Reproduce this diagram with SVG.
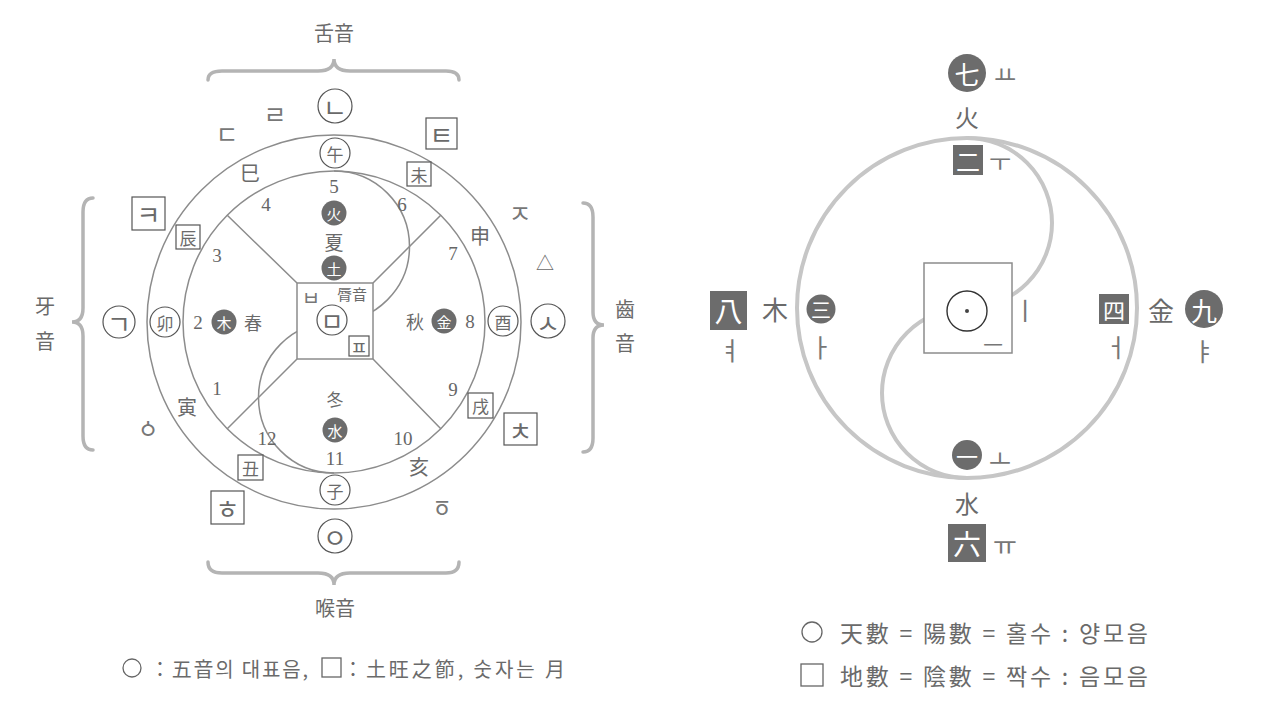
<svg xmlns="http://www.w3.org/2000/svg" width="1280" height="720" viewBox="0 0 1280 720">
<style>
.t{font-family:"Noto Sans CJK KR","Noto Sans CJK SC",sans-serif;fill:#6a6a6a;text-anchor:middle;dominant-baseline:central}
.j{fill:#777}
.n{font-family:"Liberation Serif",serif;fill:#666;text-anchor:middle;dominant-baseline:central;font-size:19px}
.w{fill:#fff}
.ln{fill:none;stroke:#8c8c8c;stroke-width:1.5}
.oc{fill:#fff;stroke:#555;stroke-width:1.2}
.bx{fill:#fff;stroke:#555;stroke-width:1.2}
.dk{fill:#6c6c6c;stroke:none}
.br{fill:none;stroke:#b4b4b4;stroke-width:3.5;stroke-linecap:round}
.yy{fill:none;stroke:#c6c6c6;stroke-width:4}
</style>
<rect width="1280" height="720" fill="#fff"/>

<g id="connectors">
  <circle class="ln" cx="334" cy="322" r="187"/>
  <circle class="ln" cx="334" cy="322" r="151"/>
  <path class="ln" d="M334 171 A75.5 75.5 0 0 1 334 322 M334 473 A75.5 75.5 0 0 1 334 322"/>
  <path class="ln" d="M297 283 L227 215 M373 283 L441 215 M297 359 L227 429 M373 359 L441 429"/>
  <path class="br" d="M208 80 Q208 71 222 71 L318 71 Q334 71 334 59 Q334 71 350 71 L446 71 Q459 71 459 80"/>
  <path class="br" d="M208 562 Q208 573 222 573 L318 573 Q334 573 334 585 Q334 573 350 573 L446 573 Q459 573 459 562"/>
  <path class="br" d="M583 203 Q593 203 593 217 L593 312 Q593 325 604 325 Q593 325 593 338 L593 438 Q593 452 583 452"/>
  <path class="br" d="M93 198 Q83 198 83 212 L83 308 Q83 322 72 322 Q83 322 83 336 L83 436 Q83 450 93 450"/>
  <circle class="yy" cx="967" cy="308" r="170"/>
  <path class="yy" d="M967 138 A85 85 0 0 1 967 308 M967 478 A85 85 0 0 1 967 308"/>
</g>

<g id="center-left">
  <rect x="297" y="283" width="76" height="76" fill="#fff" stroke="#8c8c8c" stroke-width="1.5"/>
  <text class="t j" x="311" y="297" font-size="20">ㅂ</text>
  <text class="t" x="352" y="293" font-size="15">脣音</text>
  <circle class="oc" cx="332" cy="320" r="15"/>
  <text class="t" x="332" y="320" font-size="25">ㅁ</text>
  <rect class="bx" x="349" y="336" width="20" height="20"/>
  <text class="t" x="359" y="346" font-size="19">ㅍ</text>
</g>

<g id="labels-top">
  <text class="t" x="334" y="32" font-size="20">舌音</text>
  <circle class="oc" cx="335" cy="106" r="17"/><text class="t" x="335" y="106" font-size="26">ㄴ</text>
  <text class="t j" x="275" y="113" font-size="25">ㄹ</text>
  <text class="t j" x="227" y="133" font-size="25">ㄷ</text>
  <circle class="oc" cx="335" cy="153" r="15"/><text class="t" x="335" y="153" font-size="17">午</text>
  <text class="t" x="250" y="172" font-size="20">巳</text>
  <text class="n" x="334" y="186">5</text>
  <text class="n" x="266" y="204">4</text>
  <text class="n" x="402" y="204">6</text>
  <rect class="bx" x="426" y="118" width="31" height="31"/><text class="t" x="441.5" y="133.5" font-size="26">ㅌ</text>
  <rect class="bx" x="407" y="162" width="24" height="24"/><text class="t" x="419" y="174" font-size="17">未</text>
  <circle class="dk" cx="334" cy="213" r="12.5"/><text class="t w" x="334" y="213" font-size="15">火</text>
  <text class="t" x="334" y="241" font-size="19">夏</text>
  <circle class="dk" cx="334" cy="268" r="12.5"/><text class="t w" x="334" y="268" font-size="15">土</text>
</g>

<g id="labels-left">
  <text class="t" x="45" y="305" font-size="20">牙</text>
  <text class="t" x="45" y="340" font-size="20">音</text>
  <rect class="bx" x="132" y="197" width="33" height="33"/><text class="t" x="148.5" y="213.5" font-size="26">ㅋ</text>
  <rect class="bx" x="176" y="225" width="24" height="24"/><text class="t" x="188" y="237" font-size="17">辰</text>
  <text class="n" x="217" y="255">3</text>
  <circle class="oc" cx="119" cy="322" r="16"/><text class="t" x="119" y="322" font-size="26">ㄱ</text>
  <circle class="oc" cx="165" cy="322" r="15"/><text class="t" x="165" y="322" font-size="17">卯</text>
  <text class="n" x="198" y="322">2</text>
  <circle class="dk" cx="224" cy="322" r="12.5"/><text class="t w" x="224" y="322" font-size="15">木</text>
  <text class="t" x="253" y="322" font-size="18">春</text>
  <text class="n" x="217" y="388">1</text>
  <text class="t" x="187" y="406" font-size="20">寅</text>
  <text class="t j" x="148" y="427" font-size="25">ㆁ</text>
</g>

<g id="labels-right">
  <text class="t j" x="520" y="212" font-size="25">ㅈ</text>
  <text class="t" x="480" y="235" font-size="20">申</text>
  <text class="n" x="453" y="253">7</text>
  <text class="t" x="545" y="262" font-size="18">△</text>
  <text class="t" x="415" y="321" font-size="18">秋</text>
  <circle class="dk" cx="444" cy="321" r="12.5"/><text class="t w" x="444" y="321" font-size="15">金</text>
  <text class="n" x="470" y="321">8</text>
  <circle class="oc" cx="503" cy="321" r="15"/><text class="t" x="503" y="321" font-size="17">酉</text>
  <circle class="oc" cx="548" cy="321" r="17"/><text class="t" x="548" y="321" font-size="26">ㅅ</text>
  <text class="t" x="625" y="308" font-size="20">齒</text>
  <text class="t" x="625" y="342" font-size="20">音</text>
  <text class="n" x="453" y="389">9</text>
  <rect class="bx" x="468" y="393" width="25" height="25"/><text class="t" x="480.5" y="405.5" font-size="17">戌</text>
  <rect class="bx" x="504" y="413" width="33" height="32"/><text class="t" x="520.5" y="429" font-size="26">ㅊ</text>
</g>

<g id="labels-bottom">
  <text class="t" x="335" y="398" font-size="17">冬</text>
  <circle class="dk" cx="335" cy="430" r="12.5"/><text class="t w" x="335" y="430" font-size="15">水</text>
  <text class="n" x="267" y="438">12</text>
  <text class="n" x="335" y="458">11</text>
  <text class="n" x="403" y="438">10</text>
  <text class="t" x="419" y="466" font-size="20">亥</text>
  <text class="t j" x="442" y="506" font-size="25">ㆆ</text>
  <rect class="bx" x="238" y="455" width="25" height="25"/><text class="t" x="250.5" y="467.5" font-size="17">丑</text>
  <rect class="bx" x="211" y="491" width="33" height="33"/><text class="t" x="227.5" y="507.5" font-size="26">ㅎ</text>
  <circle class="oc" cx="335" cy="490" r="15"/><text class="t" x="335" y="490" font-size="17">子</text>
  <circle class="oc" cx="335" cy="536" r="17"/><text class="t" x="335" y="536" font-size="26">ㅇ</text>
  <text class="t" x="335" y="607" font-size="20">喉音</text>
</g>

<g id="legend-left">
  <circle cx="132" cy="668" r="9" fill="none" stroke="#666" stroke-width="1.3"/>
  <text class="t" x="150" y="668" font-size="20" textLength="158" lengthAdjust="spacing" style="text-anchor:start">：五音의 대표음,</text>
  <rect x="322" y="658" width="19" height="19" fill="none" stroke="#666" stroke-width="1.3"/>
  <text class="t" x="343" y="668" font-size="20" textLength="222" lengthAdjust="spacing" style="text-anchor:start">：土旺之節,  숫자는 月</text>
</g>

<g id="center-right">
  <rect x="924" y="263" width="88" height="90" fill="#fff" stroke="#8c8c8c" stroke-width="1.5"/>
  <circle cx="967" cy="311" r="20" fill="none" stroke="#333" stroke-width="1.4"/>
  <circle cx="967" cy="311" r="2" fill="#444"/>
  <text class="t j" x="993" y="343" font-size="22">ㅡ</text>
  <text class="t j" x="1025" y="309" font-size="25">ㅣ</text>
</g>

<g id="fire">
  <circle class="dk" cx="967" cy="73" r="19"/><text class="t w" x="967" y="73" font-size="25">七</text>
  <text class="t j" x="1005" y="73" font-size="24">ㅛ</text>
  <text class="t" x="967" y="116" font-size="24">火</text>
  <rect class="dk" x="953" y="145" width="30" height="30"/><text class="t w" x="968" y="160" font-size="24">二</text>
  <text class="t j" x="1000" y="160" font-size="24">ㅜ</text>
</g>

<g id="wood">
  <rect class="dk" x="710" y="291" width="37" height="39"/><text class="t w" x="728.5" y="310" font-size="28">八</text>
  <text class="t" x="775" y="308" font-size="26">木</text>
  <circle class="dk" cx="821" cy="309" r="14.5"/><text class="t w" x="821" y="309" font-size="20">三</text>
  <text class="t j" x="730" y="349" font-size="25">ㅕ</text>
  <text class="t j" x="821" y="346" font-size="25">ㅏ</text>
</g>

<g id="metal">
  <rect class="dk" x="1099" y="294" width="30" height="30"/><text class="t w" x="1114" y="309" font-size="22">四</text>
  <text class="t" x="1161" y="309" font-size="26">金</text>
  <circle class="dk" cx="1204" cy="309" r="19"/><text class="t w" x="1204" y="309" font-size="26">九</text>
  <text class="t j" x="1116" y="346" font-size="25">ㅓ</text>
  <text class="t j" x="1204" y="350" font-size="25">ㅑ</text>
</g>

<g id="water">
  <circle class="dk" cx="967" cy="455" r="15"/><text class="t w" x="967" y="455" font-size="22">一</text>
  <text class="t j" x="1000" y="457" font-size="24">ㅗ</text>
  <text class="t" x="967" y="502" font-size="24">水</text>
  <rect class="dk" x="948" y="524" width="38" height="38"/><text class="t w" x="967" y="543" font-size="28">六</text>
  <text class="t j" x="1005" y="543" font-size="26">ㅠ</text>
</g>

<g id="legend-right">
  <circle cx="812" cy="632" r="10" fill="none" stroke="#666" stroke-width="1.3"/>
  <text class="t" x="840" y="632" font-size="23" textLength="308" lengthAdjust="spacing" style="text-anchor:start">天數 = 陽數 = 홀수 : 양모음</text>
  <rect x="801" y="664" width="22" height="22" fill="none" stroke="#666" stroke-width="1.3"/>
  <text class="t" x="840" y="675" font-size="23" textLength="308" lengthAdjust="spacing" style="text-anchor:start">地數 = 陰數 = 짝수 : 음모음</text>
</g>
</svg>
